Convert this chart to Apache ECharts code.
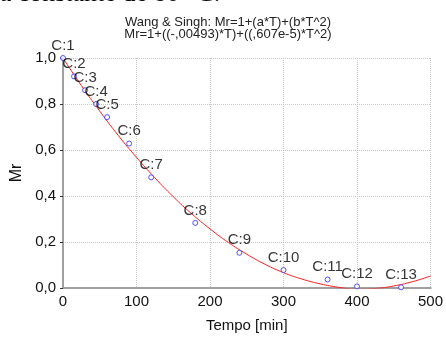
<!DOCTYPE html>
<html>
<head>
<meta charset="utf-8">
<script src="https://cdn.jsdelivr.net/npm/echarts@6/dist/echarts.min.js"></script>
<style>
	html, body { margin: 0; padding: 0; background: #fff; }
	#chart { width: 446px; height: 338px; }
</style>
</head>
<body>
<div id="chart"></div>
<script>
// pontos experimentais (Tempo [min], Mr)
const tempo = [0, 15, 30, 45, 60, 90, 120, 180, 240, 300, 360, 400, 460];
const mr = [1.0, 0.92, 0.86, 0.80, 0.743, 0.628, 0.481, 0.283, 0.153, 0.078, 0.037, 0.007, 0.003];
const pointLabels = ['C:1', 'C:2', 'C:3', 'C:4', 'C:5', 'C:6', 'C:7', 'C:8', 'C:9', 'C:10', 'C:11', 'C:12', 'C:13'];

// curva ajustada
const curveT = [0, 25, 50, 75, 100, 125, 150, 175, 200, 225, 250, 275, 300, 325, 350, 375, 400, 425, 450, 475, 500];
const curveMr = [1.0, 0.880, 0.769, 0.664, 0.568, 0.479, 0.397, 0.323, 0.257, 0.198, 0.147, 0.103, 0.067, 0.039, 0.018, 0.003, -0.005, -0.002, 0.009, 0.027, 0.052];

const xTicks = [0, 100, 200, 300, 400, 500];
const yTicks = ['0,0', '0,2', '0,4', '0,6', '0,8', '1,0'];

const titleLines = [
	'Wang & Singh: Mr=1+(a*T)+(b*T^2)',
	'Mr=1+((-,00493)*T)+((,607e-5)*T^2)'
];

const FONT = '"Liberation Sans", Arial, sans-serif';

const chart = echarts.init(document.getElementById('chart'));

const option = {
	animation: false,
	textStyle: { fontFamily: FONT },
	grid: { left: 63, right: 13, top: 58, bottom: 45 },
	graphic: [
		{
			// texto do documento cortado no topo
			type: 'text', left: -9, top: -19,
			style: { text: 'ra constante de 80 °C.', font: '26px "Liberation Serif", "Times New Roman", serif', fill: '#000' }
		},
		{
			type: 'text', x: 228, y: 22,
			style: { text: titleLines[0], font: '13px ' + FONT, fill: '#222', align: 'center', verticalAlign: 'middle' }
		},
		{
			type: 'text', x: 228, y: 34,
			style: { text: titleLines[1], font: '13px ' + FONT, fill: '#222', align: 'center', verticalAlign: 'middle' }
		}
	],
	xAxis: [
		{
			type: 'value', min: 0, max: 500, interval: 100,
			name: 'Tempo [min]', nameLocation: 'middle', nameGap: 30,
			nameTextStyle: { fontSize: 15, color: '#111' },
			axisLine: { lineStyle: { color: '#333', width: 1.5 } },
			axisTick: { show: false },
			axisLabel: {
				fontSize: 15, color: '#111', margin: 6,
				formatter: (v) => xTicks.includes(v) ? String(v) : ''
			},
			splitLine: { show: true, lineStyle: { color: '#c8c8c8', type: 'dotted' } }
		},
		{
			type: 'value', min: 0, max: 500, interval: 100, position: 'top',
			axisLine: { show: true, lineStyle: { color: '#a0a0a0', width: 2 } },
			axisTick: { show: false }, axisLabel: { show: false }, splitLine: { show: false }
		}
	],
	yAxis: [
		{
			type: 'value', min: 0, max: 1, interval: 0.2,
			name: 'Mr', nameLocation: 'middle', nameGap: 36,
			nameTextStyle: { fontSize: 16, color: '#111' },
			axisLine: { show: true, lineStyle: { color: '#333', width: 1.5 } },
			axisTick: { show: false },
			axisLabel: {
				fontSize: 15, color: '#111', margin: 7,
				formatter: (v) => yTicks[Math.round(v / 0.2)]
			},
			splitLine: { show: true, lineStyle: { color: '#c8c8c8', type: 'dotted' } }
		},
		{
			type: 'value', min: 0, max: 1, interval: 0.2, position: 'right',
			axisLine: { show: true, lineStyle: { color: '#a0a0a0', width: 2 } },
			axisTick: { show: true, inside: true, length: 3, lineStyle: { color: '#333' } },
			axisLabel: { show: false }, splitLine: { show: false }
		}
	],
	series: [
		{
			type: 'line',
			data: curveT.map((t, i) => [t, curveMr[i]]),
			smooth: true,
			showSymbol: false,
			clip: true,
			lineStyle: { color: '#ff2020', width: 1 },
			z: 2
		},
		{
			type: 'scatter',
			data: tempo.map((t, i) => [t, mr[i]]),
			symbol: 'circle',
			symbolSize: 5,
			itemStyle: { color: '#fff', borderColor: '#2a2aff', borderWidth: 1 },
			label: {
				show: true, position: 'top', distance: 2,
				fontSize: 15, color: '#000', fontFamily: FONT,
				formatter: (p) => pointLabels[p.dataIndex]
			},
			z: 3
		}
	]
};

chart.setOption(option);
</script>
</body>
</html>
